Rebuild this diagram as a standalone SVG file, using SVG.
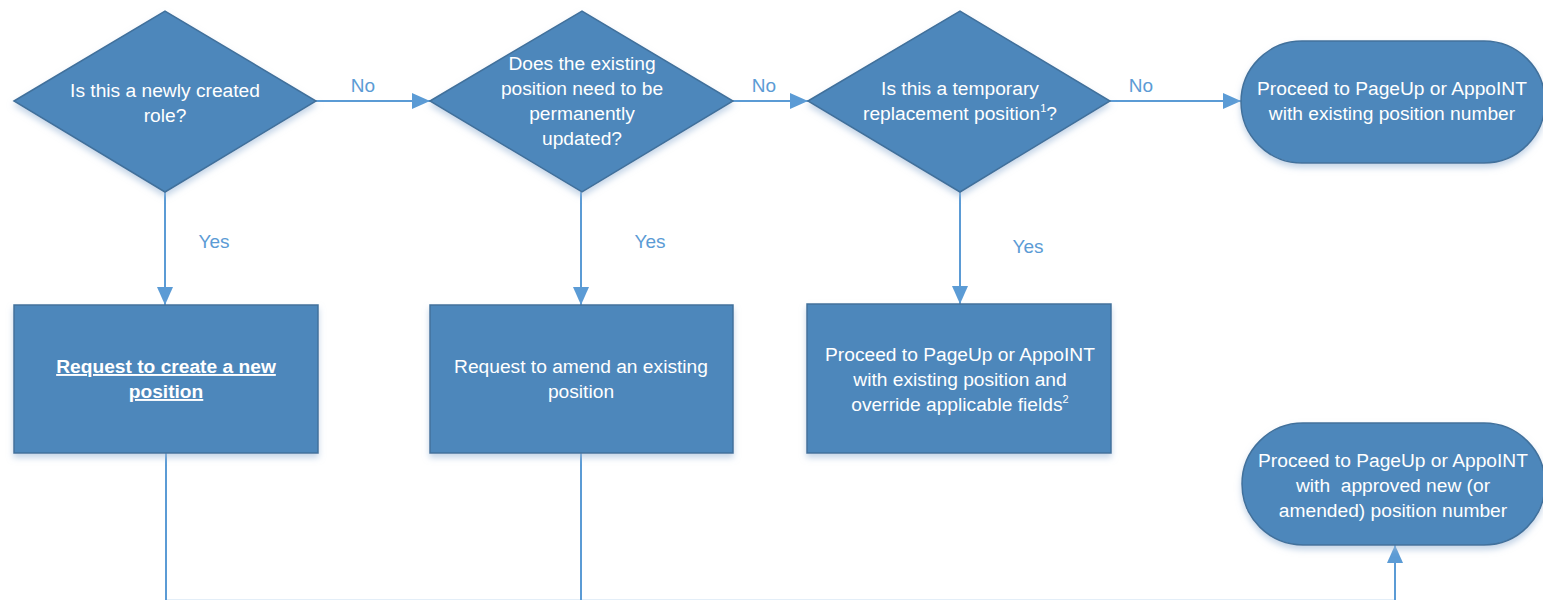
<svg xmlns="http://www.w3.org/2000/svg" width="1543" height="600" viewBox="0 0 1543 600">
<defs>
<filter id="sh" x="-10%" y="-10%" width="120%" height="130%">
<feDropShadow dx="0" dy="4" stdDeviation="3" flood-color="#9DB9D8" flood-opacity="0.6"/>
</filter>
<marker id="ah" viewBox="0 0 18 16" refX="18" refY="8" markerWidth="18" markerHeight="16" markerUnits="userSpaceOnUse" orient="auto">
<path d="M0,0 L18,8 L0,16 Z" fill="#5B9BD5"/>
</marker>
</defs>
<style>
.shape{fill:#4E87BB;stroke:#41719C;stroke-width:1.5;filter:url(#sh)}
.t{font-family:"Liberation Sans",Arial,sans-serif;font-size:19.2px;fill:#FFFFFF;text-anchor:middle}
.b{font-weight:bold;text-decoration:underline}
.lbl{font-family:"Liberation Sans",Arial,sans-serif;font-size:19px;fill:#5B9BD5;text-anchor:middle}
.c{fill:none;stroke:#5B9BD5;stroke-width:2}
.sup{font-size:11px}
</style>
<rect width="1543" height="600" fill="#FFFFFF"/>

<g id="connectors">
<line class="c" x1="316" y1="101" x2="430" y2="101" marker-end="url(#ah)"/>
<line class="c" x1="733" y1="101" x2="808" y2="101" marker-end="url(#ah)"/>
<line class="c" x1="1110" y1="101" x2="1241" y2="101" marker-end="url(#ah)"/>
<line class="c" x1="165" y1="192" x2="165" y2="305" marker-end="url(#ah)"/>
<line class="c" x1="581" y1="192" x2="581" y2="305" marker-end="url(#ah)"/>
<line class="c" x1="960" y1="192" x2="960" y2="304" marker-end="url(#ah)"/>
<line class="c" x1="166" y1="453" x2="166" y2="602"/>
<line class="c" x1="581" y1="453" x2="581" y2="602"/>
<line class="c" x1="166" y1="600.6" x2="1395" y2="600.6" stroke-opacity="0.35"/>
<line class="c" x1="1395" y1="602" x2="1395" y2="545" marker-end="url(#ah)"/>
<text class="lbl" x="363" y="92">No</text>
<text class="lbl" x="764" y="92">No</text>
<text class="lbl" x="1141" y="92">No</text>
<text class="lbl" x="214" y="248">Yes</text>
<text class="lbl" x="650" y="248">Yes</text>
<text class="lbl" x="1028" y="253">Yes</text>
</g>

<g id="d1">
<polygon class="shape" points="14,101 165,11 316,101 165,192"/>
<text class="t" x="165" y="97">Is this a newly created</text>
<text class="t" x="165" y="122">role?</text>
</g>

<g id="d2">
<polygon class="shape" points="430,101 582,11 733,101 582,192"/>
<text class="t" x="582" y="70">Does the existing</text>
<text class="t" x="582" y="95">position need to be</text>
<text class="t" x="582" y="120">permanently</text>
<text class="t" x="582" y="145">updated?</text>
</g>

<g id="d3">
<polygon class="shape" points="808,101 960,11 1110,101 960,192"/>
<text class="t" x="960" y="95">Is this a temporary</text>
<text class="t" x="960" y="120">replacement position<tspan class="sup" dy="-8">1</tspan><tspan dy="8">?</tspan></text>
</g>

<g id="t1">
<rect class="shape" x="1241" y="41" width="304" height="122" rx="61" ry="61"/>
<text class="t" x="1392" y="95">Proceed to PageUp or AppoINT</text>
<text class="t" x="1392" y="120">with existing position number</text>
</g>

<g id="r1">
<rect class="shape" x="14" y="305" width="304" height="148"/>
<text class="t b" x="166" y="373">Request to create a new</text>
<text class="t b" x="166" y="398">position</text>
</g>

<g id="r2">
<rect class="shape" x="430" y="305" width="303" height="148"/>
<text class="t" x="581" y="373">Request to amend an existing</text>
<text class="t" x="581" y="398">position</text>
</g>

<g id="r3">
<rect class="shape" x="807" y="304" width="304" height="149"/>
<text class="t" x="960" y="361">Proceed to PageUp or AppoINT</text>
<text class="t" x="960" y="386">with existing position and</text>
<text class="t" x="960" y="411">override applicable fields<tspan class="sup" dy="-8">2</tspan></text>
</g>

<g id="t2">
<rect class="shape" x="1242" y="423" width="303" height="122" rx="61" ry="61"/>
<text class="t" x="1393" y="467">Proceed to PageUp or AppoINT</text>
<text class="t" x="1393" y="492">with&#160; approved new (or</text>
<text class="t" x="1393" y="517">amended) position number</text>
</g>
</svg>
